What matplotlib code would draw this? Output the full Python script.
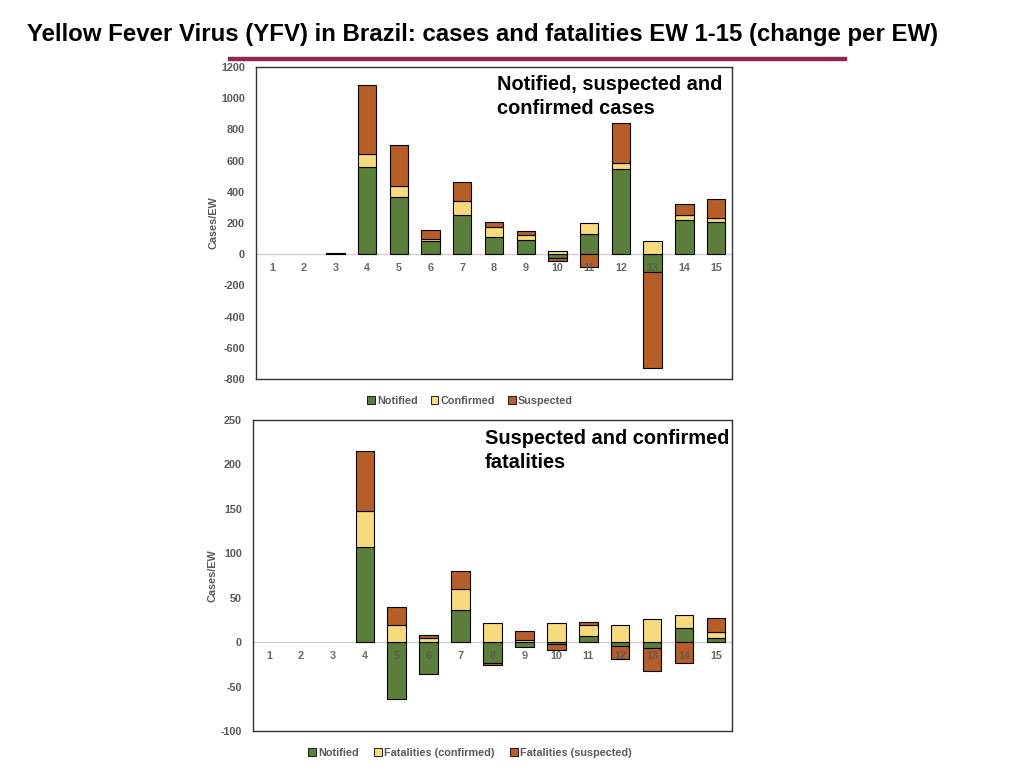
import numpy as np
import matplotlib
matplotlib.use("Agg")
import matplotlib.pyplot as plt
from matplotlib.patches import Patch

plt.rcParams['font.family'] = ['Liberation Sans', 'DejaVu Sans']

weeks = [str(i) for i in range(1, 16)]

# Top chart: cases per EW
cases_notified = [0, 0, 10, 556, 367, 83, 250, 113, 90, -22, 132, 545, -117, 222, 209]
cases_confirmed = [0, 0, 0, 87, 71, 17, 88, 60, 36, 22, 69, 40, 86, 30, 26]
cases_suspected = [0, 0, 0, 440, 265, 54, 128, 32, 21, -20, -81, 257, -612, 68, 116]

# Bottom chart: fatalities per EW
fat_notified = [0, 0, 0, 107, -64, -36, 36, -23, -6, -2, 7, -4.5, -7, 16, 4.5]
fat_confirmed = [0, 0, 0, 41, 19, 5, 24, 21, 2, 22, 12, 19, 26, 15, 6.5]
fat_suspected = [0, 0, 0, 67, 21, 2.5, 20, -3, 10, -7, 4, -15, -25, -23, 16.5]

top_labels = ["Notified", "Confirmed", "Suspected"]
bot_labels = ["Notified", "Fatalities (confirmed)", "Fatalities (suspected)"]

GREEN = "#5b7f3b"
YELLOW = "#f7da7b"
BROWN = "#b75e28"
GRAY = "#595959"
colors = [GREEN, YELLOW, BROWN]

fig = plt.figure(figsize=(10.24, 7.68), dpi=100)

fig.text(27 / 1024, 1 - 35 / 768,
         "Yellow Fever Virus (YFV) in Brazil: cases and fatalities EW 1-15 (change per EW)",
         fontsize=17.3, fontweight='bold', ha='left', va='center', color='black')
fig.add_artist(plt.Line2D([230 / 1024, 845 / 1024], [1 - 59 / 768, 1 - 59 / 768],
                          color="#8e2955", lw=3.2, transform=fig.transFigure))


def stacked(ax, series, ylim, yticks, note, note_xy):
    x = np.arange(len(weeks))
    pos = np.zeros(len(weeks))
    neg = np.zeros(len(weeks))
    for vals, c in zip(series, colors):
        v = np.array(vals, dtype=float)
        bottom = np.where(v >= 0, pos, neg)
        nz = v != 0
        ax.bar(x[nz], v[nz], bottom=bottom[nz], width=0.58, color=c, edgecolor='black',
               linewidth=0.8, zorder=3)
        pos = pos + np.where(v >= 0, v, 0)
        neg = neg + np.where(v < 0, v, 0)
    ax.axhline(0, color="#d0d0d0", lw=1.0, zorder=1)
    ax.set_xlim(-0.5, len(weeks) - 0.5)
    ax.set_ylim(*ylim)
    ax.set_xticks([])
    ax.set_yticks(yticks)
    ax.set_yticklabels([str(t) for t in yticks], fontsize=7.8, fontweight='bold', color=GRAY)
    ax.tick_params(axis='y', length=0, pad=8)
    for i, w in enumerate(weeks):
        ax.annotate(w, (i, 0), xytext=(0, -10), textcoords='offset points',
                    ha='center', va='center', fontsize=7.8, fontweight='bold',
                    color=GRAY, zorder=4, alpha=0.9)
    for s in ax.spines.values():
        s.set_color("#333333")
        s.set_linewidth(1.0)
    ax.set_ylabel("Cases/EW", fontsize=7.8, fontweight='bold', color=GRAY, labelpad=2)
    ax.text(note_xy[0], note_xy[1], note, transform=fig.transFigure, fontsize=14.4,
            fontweight='bold', ha='left', va='top', color='black', linespacing=1.3)


ax1 = fig.add_axes([256 / 1024, 1 - 379 / 768, (732 - 256) / 1024, (379 - 67) / 768])
stacked(ax1, [cases_notified, cases_confirmed, cases_suspected], (-800, 1200),
        list(range(-800, 1201, 200)), "Notified, suspected and\nconfirmed cases",
        (497 / 1024, 1 - 75.5 / 768))

ax2 = fig.add_axes([253 / 1024, 1 - 731 / 768, (732 - 253) / 1024, (731 - 420) / 768])
stacked(ax2, [fat_notified, fat_confirmed, fat_suspected], (-100, 250),
        list(range(-100, 251, 50)), "Suspected and confirmed\nfatalities",
        (485 / 1024, 1 - 429.5 / 768))


def legend(labels, y, x, colsp):
    handles = [Patch(facecolor=c, edgecolor='black', linewidth=0.6) for c in colors]
    leg = fig.legend(handles, labels, loc='center', bbox_to_anchor=(x / 1024, 1 - y / 768),
                     ncol=3, frameon=False, handlelength=0.7, handleheight=0.7,
                     handletextpad=0.2, columnspacing=colsp,
                     prop={'size': 7.8, 'weight': 'bold'})
    for t in leg.get_texts():
        t.set_color(GRAY)


legend(top_labels, 401, 470, 1.2)
legend(bot_labels, 753, 470, 1.45)

fig.savefig("out.png", dpi=100)
